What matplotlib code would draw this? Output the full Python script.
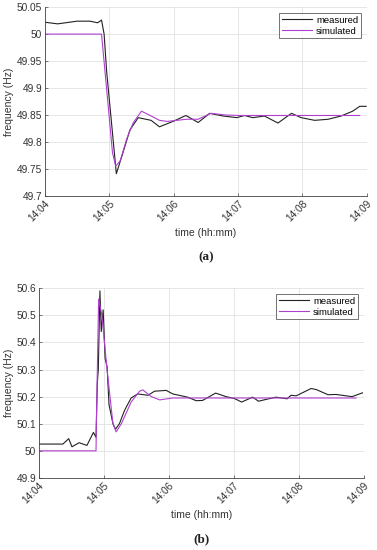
import matplotlib
matplotlib.use('Agg')
import matplotlib.pyplot as plt

plt.rcParams['font.family'] = ['Liberation Sans', 'DejaVu Sans']

# minutes after 14:04
tick_labels = ['14:04', '14:05', '14:06', '14:07', '14:08', '14:09']

# (a) under-frequency event
a_meas_t = [0, 0.2, 0.5, 0.7, 0.82, 0.88, 0.92, 0.96, 1.11, 1.2, 1.32, 1.45, 1.65, 1.78,
            1.99, 2.19, 2.38, 2.56, 2.77, 2.98, 3.10, 3.23, 3.41, 3.62, 3.83, 3.98,
            4.19, 4.40, 4.60, 4.78, 4.89, 4.99]
a_meas_f = [50.022, 50.019, 50.024, 50.024, 50.021, 50.026, 50.0, 49.93, 49.741, 49.775,
            49.822, 49.845, 49.840, 49.828, 49.838, 49.849, 49.836, 49.853, 49.848,
            49.845, 49.849, 49.845, 49.848, 49.835, 49.853, 49.845, 49.840, 49.842,
            49.848, 49.857, 49.866, 49.866]
a_sim_t = [0, 0.88, 0.95, 1.05, 1.10, 1.17, 1.27, 1.37, 1.50, 1.62, 1.78, 1.9, 2.2,
           2.38, 2.58, 2.8, 3.0, 4.89]
a_sim_f = [50.0, 50.0, 49.91, 49.78, 49.755, 49.765, 49.805, 49.835, 49.857, 49.850,
           49.840, 49.838, 49.842, 49.842, 49.853, 49.850, 49.849, 49.849]

# (b) over-frequency event
b_meas_t = [0, 0.37, 0.46, 0.51, 0.62, 0.74, 0.84, 0.88, 0.90, 0.915, 0.94, 0.96, 0.99,
            1.02, 1.05, 1.08, 1.14, 1.18, 1.24, 1.32, 1.42, 1.52, 1.68, 1.78, 1.96,
            2.06, 2.29, 2.42, 2.52, 2.72, 2.88, 3.01, 3.12, 3.29, 3.38, 3.50, 3.65,
            3.82, 3.88, 3.96, 4.19, 4.27, 4.45, 4.57, 4.82, 4.98]
b_meas_f = [50.025, 50.025, 50.045, 50.015, 50.03, 50.02, 50.068, 50.05, 50.25, 50.30,
            50.59, 50.44, 50.52, 50.34, 50.31, 50.17, 50.10, 50.08, 50.10, 50.15,
            50.195, 50.21, 50.205, 50.22, 50.223, 50.21, 50.198, 50.185, 50.186,
            50.213, 50.20, 50.193, 50.18, 50.198, 50.183, 50.19, 50.198, 50.192,
            50.205, 50.203, 50.23, 50.226, 50.207, 50.208, 50.20, 50.214]
b_sim_t = [0, 0.88, 0.885, 0.92, 0.97, 1.05, 1.14, 1.19, 1.27, 1.42, 1.55, 1.60, 1.73,
           1.86, 2.06, 4.88]
b_sim_f = [50.0, 50.0, 50.1, 50.56, 50.50, 50.30, 50.10, 50.07, 50.10, 50.18, 50.22,
           50.225, 50.20, 50.188, 50.195, 50.195]

meas_color = '#222222'
sim_color = '#b03fd0'

fig = plt.figure(figsize=(3.77, 5.5), dpi=100)
ax1 = fig.add_axes([0.119, 0.644, 0.854, 0.343])
ax2 = fig.add_axes([0.103, 0.131, 0.862, 0.345])

def style(ax, ylim, yticks, yfmt, panel, panel_y):
    ax.set_xlim(0, 5)
    ax.set_ylim(*ylim)
    ax.set_xticks(range(6))
    ax.set_xticklabels(tick_labels, rotation=45, ha='right', rotation_mode='anchor')
    ax.set_yticks(yticks)
    ax.set_yticklabels([yfmt(v) for v in yticks])
    ax.grid(True, color='#e2e2e2', linewidth=0.6)
    ax.set_axisbelow(True)
    ax.spines['top'].set_visible(False)
    ax.spines['right'].set_visible(False)
    for s in ('left', 'bottom'):
        ax.spines[s].set_color('#444444')
        ax.spines[s].set_linewidth(0.6)
    ax.tick_params(direction='in', length=2.5, width=0.5, labelsize=7.3,
                   colors='#444444', labelcolor='#333333', pad=2)
    ax.set_xlabel('time (hh:mm)', fontsize=7.5, color='#333333', labelpad=3)
    ax.set_ylabel('frequency (Hz)', fontsize=7.5, color='#333333', labelpad=2)
    leg = ax.legend(loc='upper right', fontsize=6.8, frameon=True, fancybox=False,
                    borderpad=0.3, handlelength=3.2, handletextpad=0.4,
                    labelspacing=0.2, borderaxespad=0.6)
    leg.get_frame().set_edgecolor('#333333')
    leg.get_frame().set_linewidth(0.6)
    ax.text(0.5, panel_y, panel, transform=ax.transAxes, ha='center', va='center',
            fontsize=9.5, family=['Liberation Serif'], fontweight='bold', color='#222222')

def gfmt(v):
    return ('%.2f' % v).rstrip('0').rstrip('.')

ax1.plot(a_meas_t, a_meas_f, color=meas_color, lw=0.8, label='measured')
ax1.plot(a_sim_t, a_sim_f, color=sim_color, lw=0.8, label='simulated')
style(ax1, (49.7, 50.05), [49.7, 49.75, 49.8, 49.85, 49.9, 49.95, 50.0, 50.05], gfmt,
      '(a)', -0.325)

ax2.plot(b_meas_t, b_meas_f, color=meas_color, lw=0.8, label='measured')
ax2.plot(b_sim_t, b_sim_f, color=sim_color, lw=0.8, label='simulated')
style(ax2, (49.9, 50.6), [49.9, 50.0, 50.1, 50.2, 50.3, 50.4, 50.5, 50.6], gfmt,
      '(b)', -0.325)

fig.savefig('out.png', dpi=100)
